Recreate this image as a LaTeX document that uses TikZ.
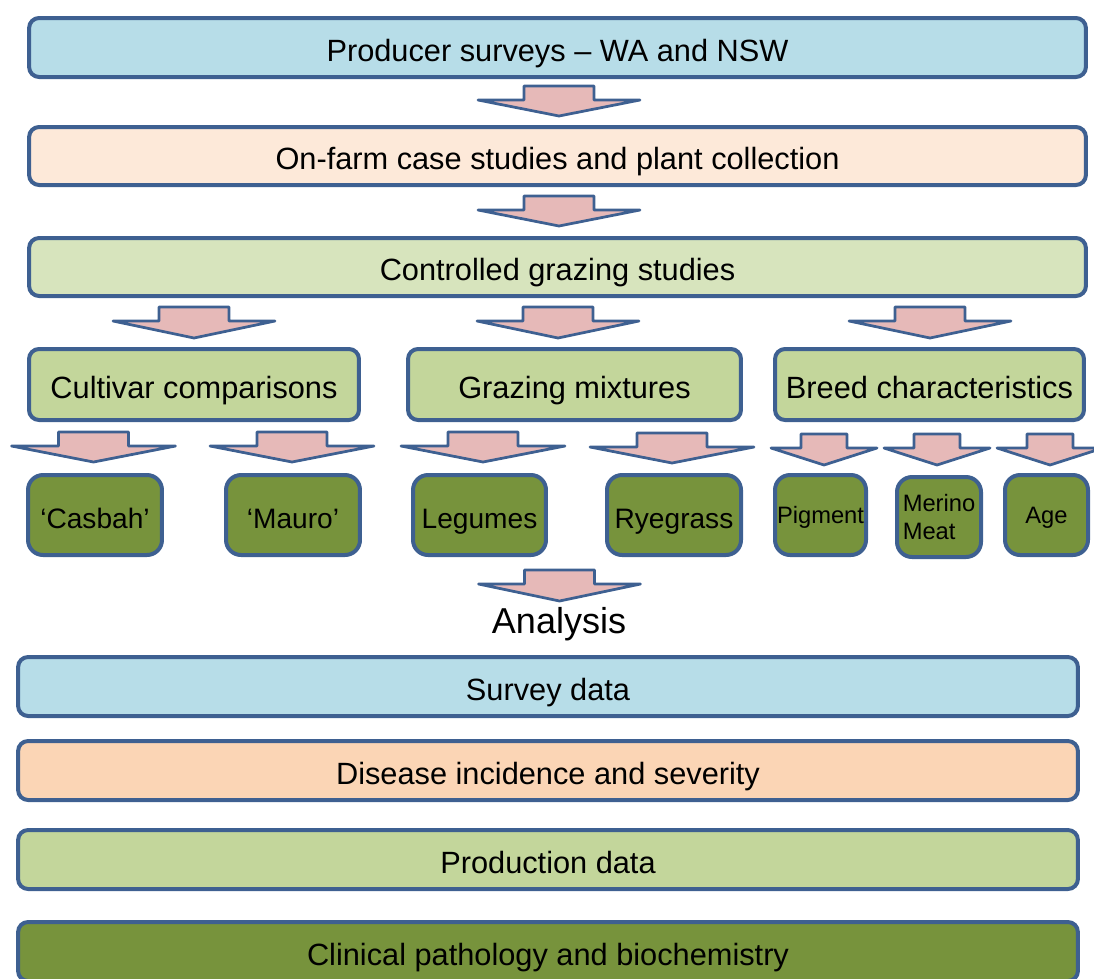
\documentclass[tikz,border=0pt]{standalone}
\usepackage{fontspec}
\setmainfont{Liberation Sans}
\usetikzlibrary{positioning}
\definecolor{rimblue}{RGB}{62,96,145}
\definecolor{skyfill}{RGB}{183,221,232}
\definecolor{peachfill}{RGB}{253,233,217}
\definecolor{apricotfill}{RGB}{251,213,181}
\definecolor{palegreen}{RGB}{215,228,189}
\definecolor{sagegreen}{RGB}{195,214,155}
\definecolor{olivegreen}{RGB}{119,147,60}
\definecolor{rosefill}{RGB}{230,185,184}
\tikzset{
    stagebox/.style={draw=rimblue, line width=0.08cm, rounded corners=0.2cm, inner sep=0pt, align=center, font=\fontsize{17.5}{21}\selectfont, text height=15.4pt, text depth=0pt},
    branchbox/.style={stagebox, fill=sagegreen, minimum height=1.42cm},
    leafbox/.style={stagebox, fill=olivegreen, rounded corners=0.3cm, minimum height=1.6cm, font=\fontsize{16}{19}\selectfont, text height=14.8pt},
    breedleaf/.style={leafbox, font=\fontsize{13.5}{15.5}\selectfont, text height=9.1pt},
    resultbox/.style={stagebox, minimum width=21.2cm, minimum height=1.18cm},
    arrowshape/.style={draw=rimblue, fill=rosefill, line width=0.055cm, line join=round},
    pics/flatarrow/.style n args={3}{code={
        \draw[arrowshape] (-#2,0) -- (#2,0) -- (#2,14) -- (#1,14) -- (0,#3) -- (-#1,14) -- (-#2,14) -- cycle;
    }}
}

\begin{document}
\begin{tikzpicture}[x=0.02cm, y=-0.02cm]
    \useasboundingbox (0,0) rectangle (1094,978);

    % survey and field work stages
    \node[stagebox, fill=skyfill, minimum width=21.14cm, minimum height=1.18cm] (surveys) at (557.5,47.5) {Producer surveys -- WA and NSW};
    \node[stagebox, fill=peachfill, minimum width=21.14cm, minimum height=1.16cm] (casestudies) at (557.5,156) {On-farm case studies and plant collection};
    \node[stagebox, fill=palegreen, minimum width=21.14cm, minimum height=1.16cm] (grazing) at (557.5,267) {Controlled grazing studies};

    \node[branchbox, minimum width=6.6cm] (cultivar) at (194,384.5) {Cultivar comparisons};
    \node[branchbox, minimum width=6.66cm] (mixtures) at (574.5,384.5) {Grazing mixtures};
    \node[branchbox, minimum width=6.18cm] (breed) at (929.5,384.5) {Breed characteristics};

    \node[leafbox, minimum width=2.68cm] (casbah) at (95,515) {`Casbah'};
    \node[leafbox, minimum width=2.68cm] (mauro) at (293,515) {`Mauro'};
    \node[leafbox, minimum width=2.66cm] (legumes) at (479.5,515) {Legumes};
    \node[leafbox, minimum width=2.68cm] (ryegrass) at (674,515) {Ryegrass};
    \node[breedleaf, minimum width=1.82cm] (pigment) at (820.5,515) {Pigment};
    \node[breedleaf, minimum width=1.68cm, align=left, text height=, text depth=] (merino) at (939,517) {Merino\\Meat};
    \node[breedleaf, minimum width=1.66cm] (age) at (1046.5,515) {Age};

    % block arrows
    \pic at (559,86) {flatarrow={81}{35}{30}};
    \pic at (559,196) {flatarrow={81}{35}{30}};
    \pic at (194,307) {flatarrow={81}{35}{31}};
    \pic at (558,307) {flatarrow={81}{35}{31}};
    \pic at (930,307) {flatarrow={81}{35}{31}};
    \pic at (93.5,432) {flatarrow={82}{35}{30}};
    \pic at (292,432) {flatarrow={82}{35}{30}};
    \pic at (483,432) {flatarrow={82}{35}{30}};
    \pic at (672,433) {flatarrow={82}{35}{30}};
    \pic at (824,434) {flatarrow={53}{23}{31}};
    \pic at (937,434) {flatarrow={53}{23}{31}};
    \pic at (1050,434) {flatarrow={53}{23}{31}};
    \pic at (559.5,570) {flatarrow={81}{35}{31}};

    \node[anchor=base, font=\fontsize{20.5}{24}\selectfont] (analysis) at (559,633) {Analysis};

    % analysis outputs
    \node[resultbox, fill=skyfill] (surveydata) at (548,686.5) {Survey data};
    \node[resultbox, fill=apricotfill] (disease) at (548,770.5) {Disease incidence and severity};
    \node[resultbox, fill=sagegreen] (production) at (548,859.5) {Production data};
    \node[resultbox, fill=olivegreen] (pathology) at (548,951.5) {Clinical pathology and biochemistry};
\end{tikzpicture}
\end{document}
